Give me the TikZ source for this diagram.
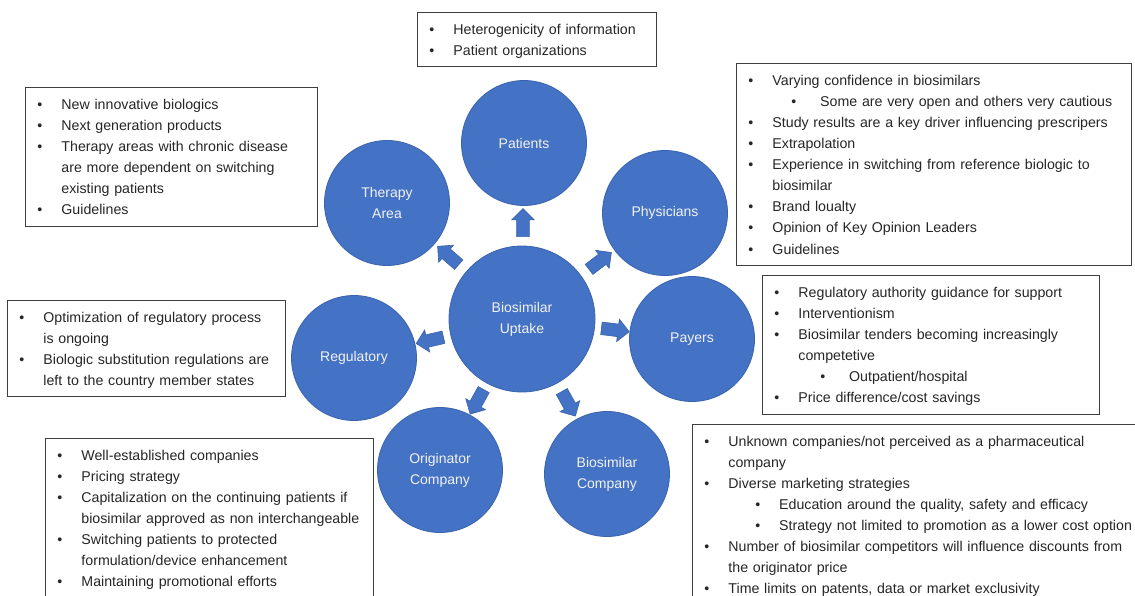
\documentclass[tikz,border=0pt]{standalone}
\usepackage{fontspec}
\setmainfont{Liberation Sans}
\usetikzlibrary{shapes.arrows,calc}

\definecolor{discfill}{HTML}{4472C4}
\definecolor{discedge}{HTML}{3A63AE}
\definecolor{disctext}{HTML}{F2F2F2}
\definecolor{boxline}{HTML}{3F3F3F}
\definecolor{boxtext}{HTML}{262626}

\newcommand{\boxfont}{\fontsize{14.2}{21.1}\selectfont}
\newcommand{\discfont}{\fontsize{14}{21}\selectfont}
% list lines: bullet, continuation, sub-bullet (indent, bullet cell)
\newcommand{\bul}{\makebox[24pt][l]{\textbullet}}
\newcommand{\cont}{\hspace*{24pt}}
\NewDocumentCommand{\subbul}{O{44pt}O{24pt}}{\hspace*{#1}\makebox[#2][l]{\textbullet}}
% one list = rows that never wrap, set slightly below the box's top padding
\newenvironment{factorlist}
  {\par\vspace*{0.5pt}\noindent\begin{tabular}{@{}l@{}}}
  {\end{tabular}\par\vspace*{-0.5pt}}

\tikzset{
  hub/.style={circle, fill=discfill, draw=discedge, line width=0.8pt,
    minimum size=146pt, inner sep=0pt, align=center, text=disctext, font=\discfont},
  sat/.style={hub, minimum size=125pt},
  push/.style={single arrow, fill=discfill, draw=discedge, line width=0.6pt,
    minimum height=28pt, inner xsep=0pt, inner ysep=6pt,
    single arrow head extend=5pt, single arrow head indent=0pt},
  factors/.style={draw=boxline, line width=0.9pt, fill=white, anchor=north west,
    inner xsep=12pt, inner ysep=5.5pt, align=left, text=boxtext, font=\boxfont,
    text width=#1}
}

\begin{document}
\begin{tikzpicture}[x=1pt,y=-1pt]
\useasboundingbox (0,0) rectangle (1135,596);
\clip (0,0) rectangle (1135,596);

% central driver and the stakeholders around it
\node[hub] (up) at (522,319) {Biosimilar\\Uptake};
\node[sat] (pat) at (524,143) {Patients};
\node[sat] (ther) at (387,203) {Therapy\\Area};
\node[sat] (phy) at (665,213) {Physicians};
\node[sat] (pay) at (692,339) {Payers};
\node[sat] (reg) at (354,358) {Regulatory};
\node[sat] (orig) at (440,470) {Originator\\Company};
\node[sat] (bio) at (607,474) {Biosimilar\\Company};

% block arrows pointing outwards, centred in each gap
\foreach \s/\a in {pat/90, ther/139, phy/37, pay/353, reg/193, orig/241, bio/299}{
  \pgfmathtruncatemacro\b{mod(\a+180,360)}
  \node[push, rotate=\a] (arr-\s) at ($(up.\a)!0.5!(\s.\b)$) {};
}

% factor lists
\node[factors=215pt] (patbox) at (417,12) {\begin{factorlist}
\bul Heterogenicity of information\\
\bul Patient organizations
\end{factorlist}};

\node[factors=268pt] (therbox) at (25,87) {\begin{factorlist}
\bul New innovative biologics\\
\bul Next generation products\\
\bul Therapy areas with chronic disease\\
\cont are more dependent on switching\\
\cont existing patients\\
\bul Guidelines
\end{factorlist}};

\node[factors=371pt] (phybox) at (736,63) {\begin{factorlist}
\bul Varying confidence in biosimilars\\
\subbul[43pt] Some are very open and others very cautious\\
\bul Study results are a key driver influencing prescripers\\
\bul Extrapolation\\
\bul Experience in switching from reference biologic to\\
\cont biosimilar\\
\bul Brand loualty\\
\bul Opinion of Key Opinion Leaders\\
\bul Guidelines
\end{factorlist}};

\node[factors=254pt] (regbox) at (7,300) {\begin{factorlist}
\bul Optimization of regulatory process\\
\cont is ongoing\\
\bul Biologic substitution regulations are\\
\cont left to the country member states
\end{factorlist}};

\node[factors=313pt] (paybox) at (762,275) {\begin{factorlist}
\bul Regulatory authority guidance for support\\
\bul Interventionism\\
\bul Biosimilar tenders becoming increasingly\\
\cont competetive\\
\subbul[46pt] Outpatient/hospital\\
\bul Price difference/cost savings
\end{factorlist}};

\node[factors=304pt] (origbox) at (45,438) {\begin{factorlist}
\bul Well-established companies\\
\bul Pricing strategy\\
\bul Capitalization on the continuing patients if\\
\cont biosimilar approved as non interchangeable\\
\bul Switching patients to protected\\
\cont formulation/device enhancement\\
\bul Maintaining promotional efforts
\end{factorlist}};

\node[factors=446pt] (biobox) at (692,424) {\begin{factorlist}
\bul Unknown companies/not perceived as a pharmaceutical\\
\cont company\\
\bul Diverse marketing strategies\\
\subbul[51pt][19pt] Education around the quality, safety and efficacy\\
\subbul[51pt][19pt] Strategy not limited to promotion as a lower cost option\\
\bul Number of biosimilar competitors will influence discounts from\\
\cont the originator price\\
\bul Time limits on patents, data or market exclusivity
\end{factorlist}};
\end{tikzpicture}
\end{document}
